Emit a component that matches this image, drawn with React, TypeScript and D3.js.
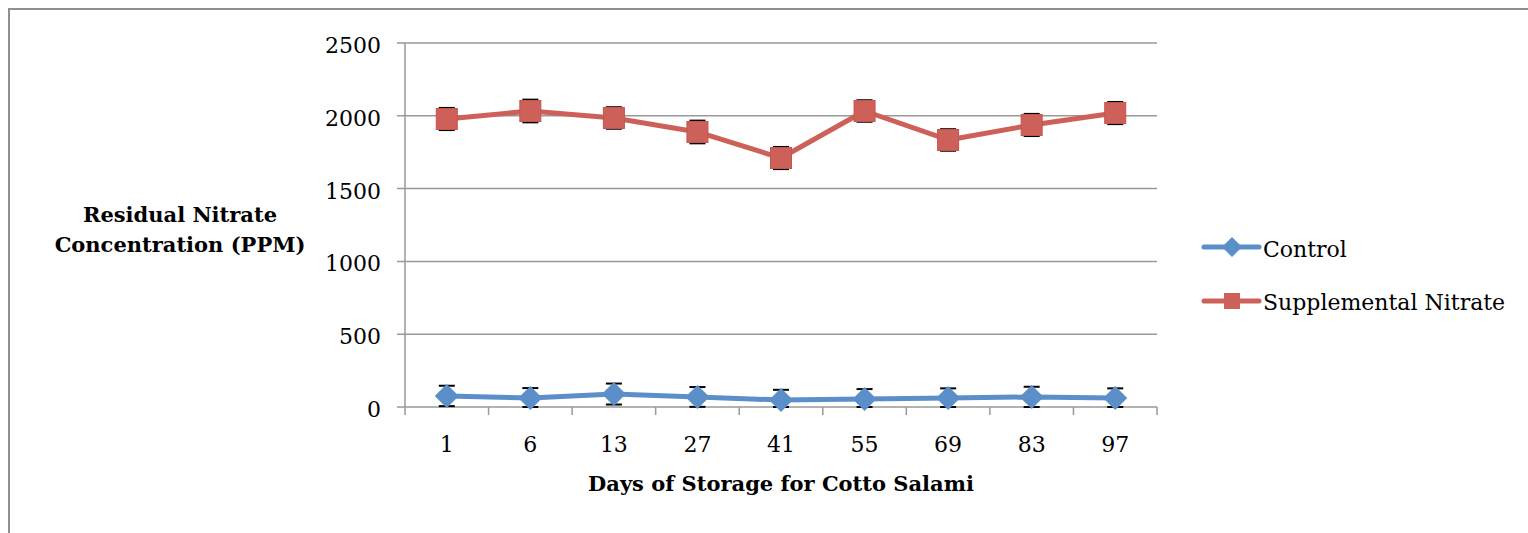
import React from "react";
import * as d3 from "d3";

const days = ["1", "6", "13", "27", "41", "55", "69", "83", "97"];
const controlValues = [76, 62, 89, 69, 48, 55, 62, 69, 62];
const controlErrors = [70, 68, 72, 68, 70, 68, 66, 70, 66];
const nitrateValues = [1978, 2033, 1985, 1889, 1710, 2033, 1834, 1937, 2019];
const nitrateErrors = [76, 78, 74, 78, 76, 74, 74, 76, 76];
const yTicks = [0, 500, 1000, 1500, 2000, 2500];

const BLUE = "#5B8FC9";
const RED = "#CD6159";
const GRID = "#999999";
const FONT = "'DejaVu Serif', 'Liberation Serif', serif";

export default function App() {
  const W = 1528, H = 533;
  const x = d3.scaleBand<string>().domain(days).range([405, 1157]).padding(0);
  const y = d3.scaleLinear().domain([0, 2500]).range([407, 43]);
  const cx = (d: string) => (x(d) as number) + x.bandwidth() / 2;
  const line = d3.line<number>().x((_, i) => cx(days[i])).y((v) => y(v));

  const errBars = (vals: number[], errs: number[], key: string) =>
    vals.map((v, i) => {
      const px = cx(days[i]);
      const y1 = y(v + errs[i]);
      const y0 = y(Math.max(0, v - errs[i]));
      return (
        <g key={key + i} stroke="#000" strokeWidth={2}>
          <line x1={px} x2={px} y1={y0} y2={y1} />
          <line x1={px - 8} x2={px + 8} y1={y1} y2={y1} />
          <line x1={px - 8} x2={px + 8} y1={y0} y2={y0} />
        </g>
      );
    });

  const diamond = (px: number, py: number, r: number) =>
    `M${px},${py - r}L${px + r},${py}L${px},${py + r}L${px - r},${py}Z`;

  return (
    <svg width={W} height={H} style={{ position: "absolute", left: 0, top: 0, background: "#fff" }}>
      {/* frame */}
      <path d={`M9,${H}L9,9L${W},9`} fill="none" stroke="#8f8f8f" strokeWidth={2} />
      {/* gridlines */}
      {yTicks.map((t) => (
        <g key={t}>
          <line x1={397} x2={1157} y1={y(t)} y2={y(t)} stroke={GRID} strokeWidth={1.5} />
          <text x={381} y={y(t) + 10} textAnchor="end" fontFamily={FONT} fontSize={22} fill="#000">
            {t}
          </text>
        </g>
      ))}
      {/* y axis */}
      <line x1={405} x2={405} y1={43} y2={407} stroke={GRID} strokeWidth={1.5} />
      {/* x ticks */}
      {[...days.map((d) => x(d) as number), 1157].map((px, i) => (
        <line key={i} x1={px} x2={px} y1={407} y2={415} stroke={GRID} strokeWidth={1.5} />
      ))}
      {days.map((d) => (
        <text key={d} x={cx(d)} y={452} textAnchor="middle" fontFamily={FONT} fontSize={22} fill="#000">
          {d}
        </text>
      ))}
      {/* axis titles */}
      <text x={781} y={491} textAnchor="middle" fontFamily={FONT} fontSize={21} fontWeight="bold" fill="#000">
        Days of Storage for Cotto Salami
      </text>
      <text x={180} y={222} textAnchor="middle" fontFamily={FONT} fontSize={21} fontWeight="bold" fill="#000">
        Residual Nitrate
      </text>
      <text x={180} y={252} textAnchor="middle" fontFamily={FONT} fontSize={21} fontWeight="bold" fill="#000">
        Concentration (PPM)
      </text>
      {/* error bars */}
      {errBars(nitrateValues, nitrateErrors, "n")}
      {errBars(controlValues, controlErrors, "c")}
      {/* series lines */}
      <path d={line(nitrateValues) as string} fill="none" stroke={RED} strokeWidth={5} strokeLinejoin="round" />
      <path d={line(controlValues) as string} fill="none" stroke={BLUE} strokeWidth={5} strokeLinejoin="round" />
      {/* markers */}
      {nitrateValues.map((v, i) => (
        <rect key={"nm" + i} x={cx(days[i]) - 10.5} y={y(v) - 10.5} width={21} height={21} fill={RED} stroke="#c4554e" strokeWidth={1} />
      ))}
      {controlValues.map((v, i) => (
        <path key={"cm" + i} d={diamond(cx(days[i]), y(v), 12)} fill={BLUE} />
      ))}
      {/* legend */}
      <line x1={1204} x2={1259} y1={247} y2={247} stroke={BLUE} strokeWidth={5} strokeLinecap="round" />
      <path d={diamond(1232, 247, 10)} fill={BLUE} />
      <text x={1263} y={257} fontFamily={FONT} fontSize={22} fill="#000">Control</text>
      <line x1={1204} x2={1259} y1={301} y2={301} stroke={RED} strokeWidth={5} strokeLinecap="round" />
      <rect x={1224} y={293} width={16} height={16} fill={RED} />
      <text x={1263} y={310} fontFamily={FONT} fontSize={22} fill="#000">Supplemental Nitrate</text>
    </svg>
  );
}
